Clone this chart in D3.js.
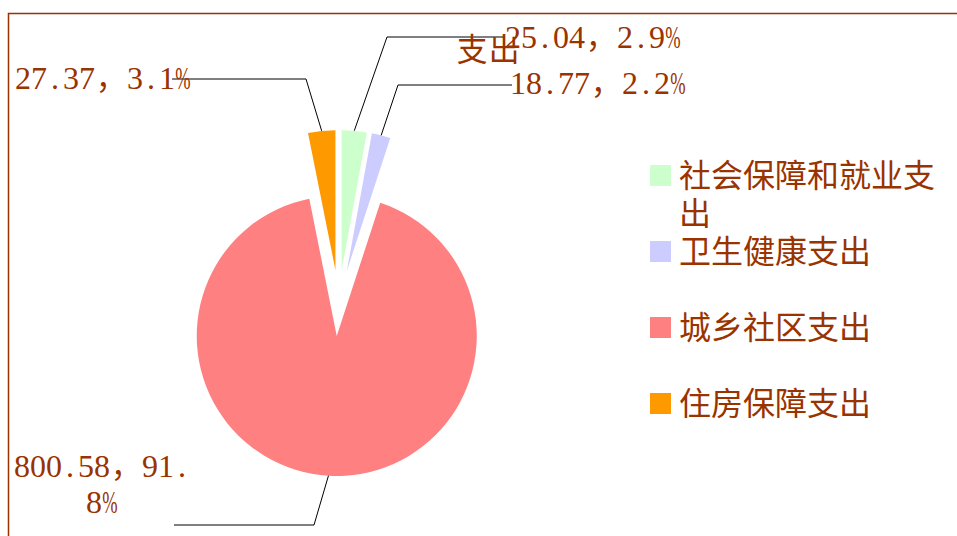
<!DOCTYPE html>
<html lang="zh">
<head>
<meta charset="UTF-8">
<title>支出构成</title>
<style>
  body { margin: 0; padding: 0; background: #fff; }
  svg { display: block; }
  .cjk { font-family: "Noto Sans CJK SC", sans-serif; }
</style>
<script src="https://d3js.org/d3.v7.min.js"></script>
</head>
<body>
<div id="chart"></div>
<script>
// data
const categories = ["社会保障和就业支出", "卫生健康支出", "城乡社区支出", "住房保障支出"];
const values = [25.04, 18.77, 800.58, 27.37];
const colors = ["#CCFFCC", "#CCCCFF", "#FF8080", "#FF9900"];

// where the labels were dragged to (elbow of leader, text anchor)
const labelLayout = [
  { elbow: [387, 37], end: [503, 37], x: 505, y: 48, anchor: "start" },
  { elbow: [398, 85], end: [512, 85], x: 510, y: 94, anchor: "start" },
  { elbow: [314, 525], end: [174, 525], x: 102, y: 477, anchor: "middle", wrap: 7 },
  { elbow: [306, 79], end: [172, 79], x: 103, y: 89, anchor: "middle" }
];

const W = 957, H = 536;
const brown = "#993300";
const fs = 32;
const cx = 338.7, cy = 303, R = 140, explode = 33;

const svg = d3.select("#chart").append("svg")
  .attr("width", W).attr("height", H);

// plot border (only top and left visible)
svg.append("path")
  .attr("d", `M8.5,${H} V13.5 H${W}`)
  .attr("fill", "none").attr("stroke", brown).attr("stroke-width", 1.5);

const total = d3.sum(values);
const pie = d3.pie().sort(null).value(d => d);
const arcs = pie(values);
const arc = d3.arc().innerRadius(0).outerRadius(R);

function offset(a) {
  const m = (a.startAngle + a.endAngle) / 2;
  return [Math.sin(m) * explode, -Math.cos(m) * explode];
}

const g = svg.append("g").attr("transform", `translate(${cx},${cy})`);
g.selectAll("path.slice")
  .data(arcs)
  .enter().append("path")
  .attr("class", "slice")
  .attr("transform", d => `translate(${offset(d)})`)
  .attr("d", arc)
  .attr("fill", (d, i) => colors[i]);

// SimSun-like cell layout: half width for ascii, full width for CJK
function cellText(sel, str, x0, y, anchor) {
  const chars = Array.from(str);
  const widths = chars.map(c => c.charCodeAt(0) > 255 ? fs : fs / 2);
  const tot = d3.sum(widths);
  let x = anchor === "middle" ? x0 - tot / 2 : x0;
  const grp = sel.append("g");
  chars.forEach((c, i) => {
    const t = grp.append("text")
      .attr("x", x + widths[i] / 2)
      .attr("y", y)
      .attr("fill", brown)
      .attr("font-size", fs)
      .attr("text-anchor", "middle")
      .attr("font-family", widths[i] === fs ? "Noto Sans CJK SC" : "Liberation Serif")
      .text(c);
    const len = t.node().getComputedTextLength();
    if (len > widths[i]) {
      t.attr("textLength", widths[i] * 0.96).attr("lengthAdjust", "spacingAndGlyphs");
    }
    x += widths[i];
  });
}

// data labels with leader lines
const lab = svg.append("g");
arcs.forEach((a, i) => {
  const L = labelLayout[i];
  const m = (a.startAngle + a.endAngle) / 2;
  const o = offset(a);
  const sx = cx + o[0] + Math.sin(m) * R;
  const sy = cy + o[1] - Math.cos(m) * R;
  lab.append("path")
    .attr("d", d3.line()([[sx, sy], L.elbow, L.end]))
    .attr("fill", "none").attr("stroke", "#000").attr("stroke-width", 1);

  const str = values[i].toFixed(2) + "，" + (values[i] / total * 100).toFixed(1) + "%";
  if (L.wrap) {
    const chars = Array.from(str);
    cellText(lab, chars.slice(0, L.wrap + 3).join(""), L.x, L.y, L.anchor);
    cellText(lab, chars.slice(L.wrap + 3).join(""), L.x, L.y + 36, L.anchor);
  } else {
    cellText(lab, str, L.x, L.y, L.anchor);
  }
});

// stray wrapped fragment of a category name
cellText(lab, "支出", 456, 61, "start");

// legend
const legend = svg.append("g").attr("transform", "translate(650,165)");
const maxChars = 8;
categories.forEach((c, i) => {
  const row = legend.append("g").attr("transform", `translate(0,${i * 76})`);
  row.append("rect")
    .attr("width", 21).attr("height", 21)
    .attr("fill", colors[i]);
  const chars = Array.from(c);
  for (let k = 0; k * maxChars < chars.length; k++) {
    row.append("text")
      .attr("class", "cjk")
      .attr("x", 29)
      .attr("y", 22 + k * 38)
      .attr("font-size", fs)
      .attr("fill", brown)
      .text(chars.slice(k * maxChars, (k + 1) * maxChars).join(""));
  }
});
</script>
</body>
</html>
